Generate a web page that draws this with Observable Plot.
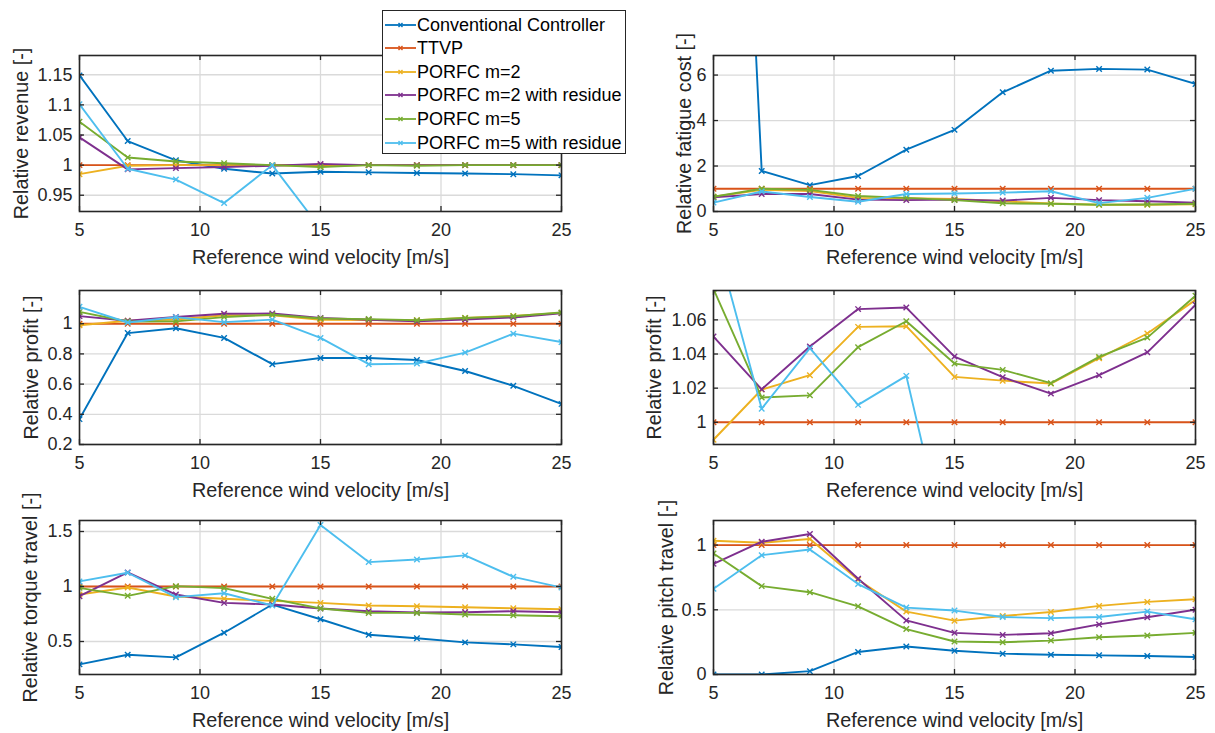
<!DOCTYPE html>
<html><head><meta charset="utf-8">
<script src="https://cdn.jsdelivr.net/npm/d3@7"></script>
<script src="https://cdn.jsdelivr.net/npm/@observablehq/plot@0.6"></script>
<style>
html,body{margin:0;padding:0;background:#fff;}
#fig{position:relative;width:1215px;height:733px;overflow:hidden;font-family:"Liberation Sans",Arial,sans-serif;background:#fff;}
.panel{position:absolute;}
#legend{position:absolute;left:382px;top:10px;width:244px;height:144px;border:1.4px solid #262626;background:#fff;box-sizing:border-box;z-index:5;}
.lrow{position:absolute;left:0;height:24px;line-height:24px;font-size:18px;color:#000;white-space:nowrap;}
.lrow svg{position:absolute;left:1px;top:7px;}
.lrow span{position:absolute;left:34px;top:0;}
</style></head><body><div id="fig"></div>
<script>
// ---- data ----
const windSpeed = [5, 7, 9, 11, 13, 15, 17, 19, 21, 23, 25];
const seriesNames = ["Conventional Controller", "TTVP", "PORFC m=2", "PORFC m=2 with residue", "PORFC m=5", "PORFC m=5 with residue"];
const seriesColors = ["#0072BD", "#D95319", "#EDB120", "#7E2F8E", "#77AC30", "#4DBEEE"];
const xTicks = [5, 10, 15, 20, 25];
const xLabel = "Reference wind velocity [m/s]";

// rows: series in the order of seriesNames
const revenue = [
  [1.149, 1.040, 1.008, 0.994, 0.986, 0.989, 0.988, 0.987, 0.986, 0.985, 0.983],
  [1, 1, 1, 1, 1, 1, 1, 1, 1, 1, 1],
  [0.985, 0.999, 1.000, 1.000, 1.000, 0.998, 1.000, 1.000, 1.000, 1.000, 1.000],
  [1.046, 0.993, 0.995, 0.997, 0.999, 1.002, 1.000, 1.000, 1.000, 1.000, 1.000],
  [1.072, 1.0126, 1.006, 1.003, 1.000, 0.997, 1.000, 0.999, 1.000, 1.000, 1.000],
  [1.101, 0.994, 0.976, 0.937, 1.000, 0.895, 0.86, 0.86, 0.88, 0.90, 0.90]
];
const fatigue = [
  [45, 1.78, 1.16, 1.56, 2.72, 3.59, 5.24, 6.19, 6.27, 6.24, 5.61],
  [1, 1, 1, 1, 1, 1, 1, 1, 1, 1, 1],
  [0.65, 0.95, 0.90, 0.60, 0.58, 0.55, 0.45, 0.35, 0.30, 0.30, 0.32],
  [0.62, 0.77, 0.77, 0.52, 0.50, 0.52, 0.48, 0.60, 0.50, 0.45, 0.39],
  [0.65, 1.00, 0.95, 0.68, 0.60, 0.50, 0.36, 0.34, 0.30, 0.31, 0.34],
  [0.39, 0.88, 0.64, 0.43, 0.77, 0.79, 0.83, 0.89, 0.37, 0.60, 1.00]
];
const profit = [
  [0.368, 0.938, 0.970, 0.906, 0.732, 0.773, 0.773, 0.760, 0.687, 0.589, 0.469],
  [1, 1, 1, 1, 1, 1, 1, 1, 1, 1, 1],
  [0.9898, 1.0192, 1.0276, 1.0559, 1.0563, 1.0266, 1.0244, 1.0227, 1.0375, 1.0520, 1.0717],
  [1.0502, 1.0193, 1.0444, 1.0663, 1.0672, 1.0385, 1.0264, 1.0168, 1.0276, 1.0410, 1.0688],
  [1.0780, 1.0145, 1.0158, 1.0440, 1.0592, 1.0344, 1.0307, 1.0229, 1.0383, 1.0496, 1.0741],
  [1.112, 1.008, 1.0434, 1.0102, 1.0272, 0.906, 0.732, 0.736, 0.809, 0.934, 0.878]
];
const torque = [
  [0.292, 0.380, 0.356, 0.580, 0.836, 0.702, 0.562, 0.529, 0.492, 0.474, 0.450],
  [1, 1, 1, 1, 1, 1, 1, 1, 1, 1, 1],
  [0.927, 0.991, 0.909, 0.888, 0.869, 0.851, 0.827, 0.821, 0.812, 0.802, 0.793],
  [0.912, 1.128, 0.927, 0.851, 0.836, 0.800, 0.775, 0.763, 0.766, 0.775, 0.766],
  [0.988, 0.915, 1.003, 0.985, 0.888, 0.800, 0.760, 0.760, 0.745, 0.739, 0.729],
  [1.046, 1.125, 0.903, 0.939, 0.827, 1.559, 1.222, 1.246, 1.283, 1.088, 0.991]
];
const pitch = [
  [0.000, 0.000, 0.026, 0.174, 0.216, 0.184, 0.161, 0.153, 0.148, 0.143, 0.135],
  [1, 1, 1, 1, 1, 1, 1, 1, 1, 1, 1],
  [1.034, 1.018, 1.047, 0.732, 0.486, 0.416, 0.452, 0.483, 0.530, 0.561, 0.582],
  [0.855, 1.026, 1.086, 0.740, 0.418, 0.322, 0.306, 0.319, 0.387, 0.442, 0.501],
  [0.935, 0.683, 0.636, 0.527, 0.351, 0.255, 0.249, 0.262, 0.288, 0.301, 0.322],
  [0.662, 0.922, 0.966, 0.699, 0.517, 0.494, 0.444, 0.436, 0.444, 0.486, 0.426]
];

const ylimRevenue = [0.923, 1.182], yticksRevenue = [0.95, 1, 1.05, 1.1, 1.15];
const ylimFatigue = [0, 6.86], yticksFatigue = [0, 2, 4, 6];
const ylimProfit = [0.2, 1.22], yticksProfit = [0.2, 0.4, 0.6, 0.8, 1];
const ylimProfitZoom = [0.987, 1.0772], yticksProfitZoom = [1, 1.02, 1.04, 1.06];
const ylimTorque = [0.2, 1.6], yticksTorque = [0.5, 1, 1.5];
const ylimPitch = [0, 1.19], yticksPitch = [0, 0.5, 1];

// ---- layout ----
const cols = [
  {left: 0, width: 600, ml: 79, mr: 39},
  {left: 600, width: 615, ml: 113, mr: 20}
];
const rows = [
  {top: 0, height: 270, mt: 55, mb: 59},
  {top: 270, height: 230, mt: 20, mb: 56},
  {top: 500, height: 233, mt: 20, mb: 59}
];
const AX = "#262626", GRID = "#dadada", TICK = 5;

function panel(values, ylim, yticks, ylabel, col, row, ylabelDx) {
  const c = cols[col], r = rows[row];
  const innerW = c.width - c.ml - c.mr, innerH = r.height - r.mt - r.mb;
  const data = [];
  values.forEach((vals, i) => vals.forEach((v, j) => data.push({s: i, x: windSpeed[j], y: v})));
  const marks = [
    Plot.gridX(xTicks, {stroke: GRID, strokeOpacity: 1, strokeWidth: 1.3}),
    Plot.gridY(yticks, {stroke: GRID, strokeOpacity: 1, strokeWidth: 1.3})
  ];
  seriesNames.forEach((n, i) => {
    const d = data.filter(e => e.s === i);
    marks.push(Plot.line(d, {x: "x", y: "y", stroke: seriesColors[i], strokeWidth: 1.9, clip: true}));
    marks.push(Plot.dot(d, {x: "x", y: "y", symbol: "times", r: 2.6, stroke: seriesColors[i], strokeWidth: 1.4, clip: true}));
  });
  marks.push(
    Plot.tickX(xTicks, {x: d => d, insetTop: innerH - TICK, stroke: AX, strokeWidth: 1.3}),
    Plot.tickX(xTicks, {x: d => d, insetBottom: innerH - TICK, stroke: AX, strokeWidth: 1.3}),
    Plot.tickY(yticks, {y: d => d, insetLeft: innerW - TICK, stroke: AX, strokeWidth: 1.3}),
    Plot.tickY(yticks, {y: d => d, insetRight: innerW - TICK, stroke: AX, strokeWidth: 1.3}),
    Plot.frame({stroke: AX, strokeWidth: 1.6}),
    Plot.axisX(xTicks, {tickSize: 0, tickPadding: 12, fontSize: 18, fill: AX, tickFormat: d => String(d), label: null}),
    Plot.axisY(yticks, {tickSize: 0, tickPadding: 7, fontSize: 18, fill: AX, tickFormat: d => String(d), label: null}),
    Plot.text([xLabel], {text: d => d, frameAnchor: "bottom", textAnchor: "middle", lineAnchor: "top", dy: 38, fontSize: 19.8, fill: AX}),
    Plot.text([ylabel], {text: d => d, frameAnchor: "left", textAnchor: "middle", lineAnchor: "middle", rotate: -90, dx: ylabelDx, fontSize: 19.8, fill: AX})
  );
  const svg = Plot.plot({
    width: c.width, height: r.height,
    marginLeft: c.ml, marginRight: c.mr, marginTop: r.mt, marginBottom: r.mb,
    x: {domain: [5, 25], label: null},
    y: {domain: ylim, label: null},
    style: {fontFamily: '"Liberation Sans", Arial, sans-serif', fontSize: "18px", color: AX, background: "transparent", overflow: "visible"},
    marks
  });
  svg.classList.add("panel");
  svg.style.left = c.left + "px";
  svg.style.top = r.top + "px";
  document.getElementById("fig").appendChild(svg);
}

panel(revenue, ylimRevenue, yticksRevenue, "Relative revenue [-]", 0, 0, -58);
panel(fatigue, ylimFatigue, yticksFatigue, "Relative fatigue cost [-]", 1, 0, -29);
panel(profit, ylimProfit, yticksProfit, "Relative profit [-]", 0, 1, -48);
panel(profit, ylimProfitZoom, yticksProfitZoom, "Relative profit [-]", 1, 1, -59);
panel(torque, ylimTorque, yticksTorque, "Relative torque travel [-]", 0, 2, -49);
panel(pitch, ylimPitch, yticksPitch, "Relative pitch travel [-]", 1, 2, -47);

// ---- legend ----
const legend = document.createElement("div");
legend.id = "legend";
seriesNames.forEach((n, i) => {
  const row = document.createElement("div");
  row.className = "lrow";
  row.style.top = (1.5 + i * 23.6) + "px";
  const col = seriesColors[i];
  row.innerHTML = `<svg width="34" height="10"><line x1="1" y1="5" x2="32" y2="5" stroke="${col}" stroke-width="1.8"/><path d="M14.5,3L18.5,7M14.5,7L18.5,3" stroke="${col}" stroke-width="1.4"/></svg><span>${n}</span>`;
  legend.appendChild(row);
});
document.getElementById("fig").appendChild(legend);
</script>
</body></html>
